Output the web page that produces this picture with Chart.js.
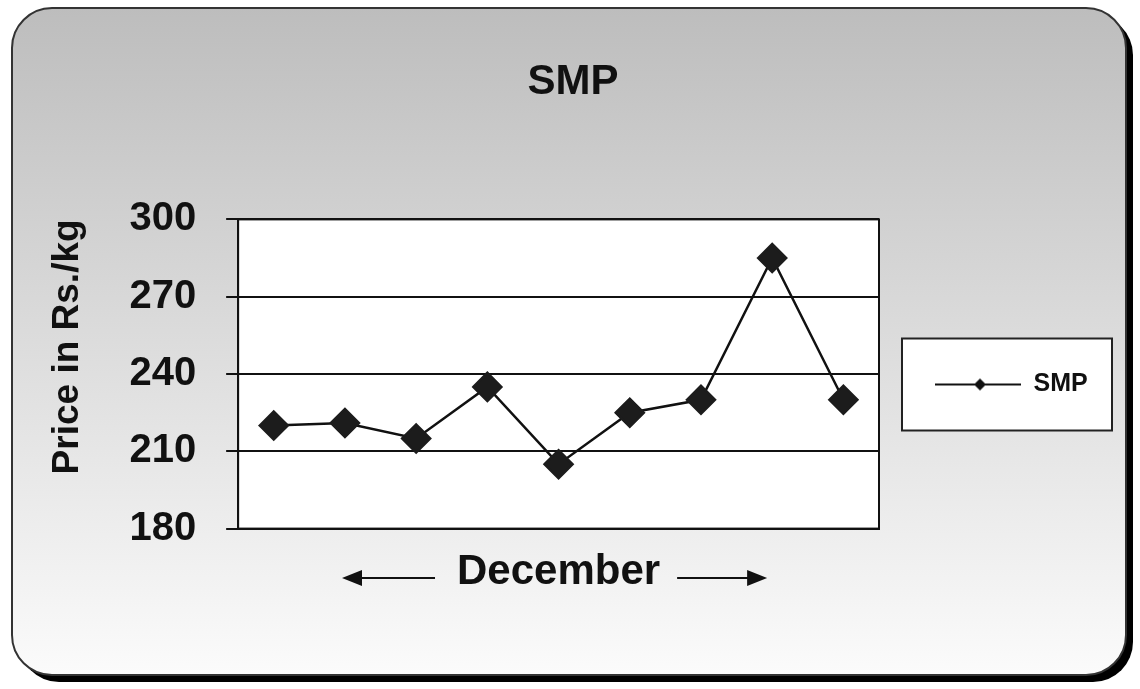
<!DOCTYPE html>
<html lang="en">
<head>
  <meta charset="UTF-8">
  <title>SMP</title>
  <script src="https://cdn.jsdelivr.net/npm/chart.js"></script>
  <style>
    body {
      margin: 0;
      background: #ffffff;
    }
    #wrap {
      width: 1140px;
      height: 689px;
    }
  </style>
</head>
<body>
  <div id="wrap">
    <canvas id="smpChart" width="1140" height="689"></canvas>
  </div>

  <script>
    // observations through December (x labels are not printed on the chart)
    const labels = ['1', '2', '3', '4', '5', '6', '7', '8', '9'];
    const smpPrices = [220, 221, 215, 235, 205, 225, 230, 285, 230];
    const yTicks = [180, 210, 240, 270, 300];

    const chartTitle = 'SMP';
    const yTitle = 'Price in Rs./kg';
    const xTitle = 'December';
    const seriesName = 'SMP';

    Chart.defaults.font.family = '"Liberation Sans", Arial, sans-serif';
    Chart.defaults.color = '#111';

    // legend symbol: short line with a small diamond
    const legendMark = document.createElement('canvas');
    legendMark.width = 86;
    legendMark.height = 14;
    (function () {
      const c = legendMark.getContext('2d');
      c.strokeStyle = '#111';
      c.lineWidth = 2;
      c.beginPath();
      c.moveTo(0, 7);
      c.lineTo(86, 7);
      c.stroke();
      c.fillStyle = '#111';
      c.beginPath();
      c.moveTo(45, 1);
      c.lineTo(51, 7);
      c.lineTo(45, 13);
      c.lineTo(39, 7);
      c.closePath();
      c.fill();
    })();

    function roundRect(ctx, x, y, w, h, r) {
      ctx.beginPath();
      ctx.moveTo(x + r, y);
      ctx.lineTo(x + w - r, y);
      ctx.arcTo(x + w, y, x + w, y + r, r);
      ctx.lineTo(x + w, y + h - r);
      ctx.arcTo(x + w, y + h, x + w - r, y + h, r);
      ctx.lineTo(x + r, y + h);
      ctx.arcTo(x, y + h, x, y + h - r, r);
      ctx.lineTo(x, y + r);
      ctx.arcTo(x, y, x + r, y, r);
      ctx.closePath();
    }

    const slidePlugin = {
      id: 'slide',
      beforeUpdate(chart) {
        // make the legend column wider than its content
        const lg = chart.legend;
        if (lg && !lg._wide) {
          const fit = lg.fit;
          lg.fit = function () {
            fit.call(this);
            this.width = 247;
          };
          lg._wide = true;
        }
      },
      beforeDraw(chart) {
        const ctx = chart.ctx;
        const a = chart.chartArea;
        ctx.save();
        // shadow + frame
        roundRect(ctx, 19, 15, 1114, 667, 40);
        ctx.fillStyle = '#000';
        ctx.fill();
        roundRect(ctx, 12, 8, 1114, 667, 40);
        const g = ctx.createLinearGradient(0, 8, 0, 675);
        g.addColorStop(0, '#bdbdbd');
        g.addColorStop(1, '#fbfbfb');
        ctx.fillStyle = g;
        ctx.fill();
        ctx.lineWidth = 2;
        ctx.strokeStyle = '#333';
        ctx.stroke();
        // plot area
        ctx.fillStyle = '#fff';
        ctx.fillRect(a.left, a.top, a.right - a.left, a.bottom - a.top);
        ctx.strokeStyle = '#111';
        ctx.lineWidth = 2;
        ctx.strokeRect(a.left, a.top, a.right - a.left, a.bottom - a.top);
        // legend box
        const lg = chart.legend;
        if (lg && lg.legendHitBoxes.length) {
          const hb = lg.legendHitBoxes[0];
          const cy = hb.top + hb.height / 2;
          ctx.fillStyle = '#fff';
          ctx.fillRect(lg.left + 23, cy - 46, lg.right - 14 - (lg.left + 23), 92);
          ctx.strokeStyle = '#222';
          ctx.lineWidth = 2;
          ctx.strokeRect(lg.left + 23, cy - 46, lg.right - 14 - (lg.left + 23), 92);
        }
        ctx.restore();
      },
      afterDraw(chart) {
        // arrows on both sides of the x axis title
        const ctx = chart.ctx;
        const a = chart.chartArea;
        const cx = (a.left + a.right) / 2;
        const y = 578;
        ctx.save();
        ctx.font = 'bold 42px "Liberation Sans", Arial, sans-serif';
        const half = ctx.measureText(xTitle).width / 2;
        ctx.strokeStyle = '#111';
        ctx.fillStyle = '#111';
        ctx.lineWidth = 2;
        const arrows = [
          [cx - half - 22, cx - half - 115],
          [cx + half + 17, cx + half + 107]
        ];
        arrows.forEach(([from, tip]) => {
          const dir = tip > from ? 1 : -1;
          ctx.beginPath();
          ctx.moveTo(from, y);
          ctx.lineTo(tip - dir * 18, y);
          ctx.stroke();
          ctx.beginPath();
          ctx.moveTo(tip, y);
          ctx.lineTo(tip - dir * 20, y - 8);
          ctx.lineTo(tip - dir * 20, y + 8);
          ctx.closePath();
          ctx.fill();
        });
        ctx.restore();
      }
    };

    new Chart(document.getElementById('smpChart'), {
      type: 'line',
      data: {
        labels: labels,
        datasets: [{
          label: seriesName,
          data: smpPrices,
          borderColor: '#111',
          borderWidth: 2.5,
          backgroundColor: '#1c1c1c',
          pointStyle: 'rectRot',
          pointRadius: 14,
          pointHoverRadius: 14,
          pointBackgroundColor: '#1c1c1c',
          pointBorderColor: '#1c1c1c',
          tension: 0,
          fill: false
        }]
      },
      options: {
        responsive: false,
        animation: false,
        layout: {
          padding: { top: 0, left: 20, right: 14, bottom: 91 }
        },
        plugins: {
          title: {
            display: true,
            text: chartTitle,
            color: '#111',
            font: { size: 42, weight: 'bold' },
            padding: { top: 57, bottom: 112 }
          },
          legend: {
            position: 'right',
            fullSize: false,
            title: { display: true, text: '', font: { size: 10 }, padding: { top: 4, bottom: 5 } },
            labels: {
              usePointStyle: true,
              pointStyle: legendMark,
              pointStyleWidth: 86,
              padding: 56,
              color: '#111',
              font: { size: 25, weight: 'bold' }
            }
          },
          tooltip: { enabled: false }
        },
        scales: {
          x: {
            offset: true,
            grid: { display: false, drawTicks: false },
            border: { display: true, color: '#111', width: 2 },
            ticks: { display: false },
            title: {
              display: true,
              text: xTitle,
              color: '#111',
              font: { size: 42, weight: 'bold' },
              padding: { top: 19, bottom: 0 }
            }
          },
          y: {
            min: yTicks[0],
            max: yTicks[yTicks.length - 1],
            afterBuildTicks(scale) {
              scale.ticks = yTicks.map(v => ({ value: v }));
            },
            grid: { color: '#111', lineWidth: 2, tickLength: 12 },
            border: { display: true, color: '#111', width: 2 },
            ticks: {
              padding: 30,
              color: '#111',
              font: { size: 40, weight: 'bold' }
            },
            title: {
              display: true,
              text: yTitle,
              align: 'end',
              color: '#111',
              font: { size: 37, weight: 'bold' },
              padding: { top: 26, bottom: 9 }
            }
          }
        }
      },
      plugins: [slidePlugin]
    });
  </script>
</body>
</html>
